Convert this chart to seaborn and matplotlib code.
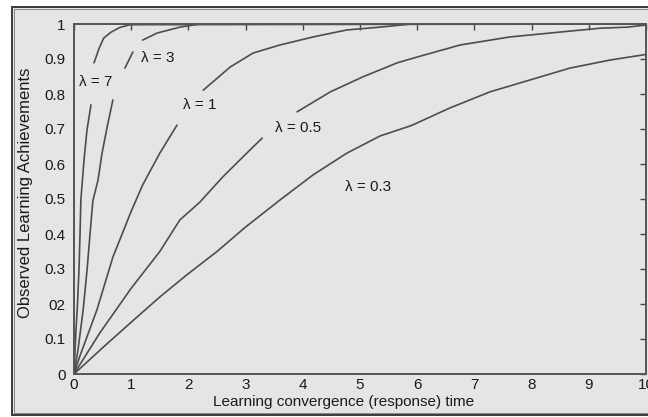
import numpy as np
import pandas as pd
import matplotlib
matplotlib.use("Agg")
import matplotlib.pyplot as plt
import seaborn as sns
from matplotlib.patches import Rectangle

# ---- data (NaN = gap where label sits) ----
lam7_t = [0, 0.035, 0.06, 0.087, 0.105, 0.12, 0.175, 0.227, 0.297, np.nan,
          0.35, 0.44, 0.52, 0.65, 0.8, 0.98, 10]
lam7_y = [0, 0.126, 0.197, 0.297, 0.397, 0.497, 0.611, 0.697, 0.769, np.nan,
          0.889, 0.931, 0.96, 0.977, 0.99, 0.998, 1.0]

lam3_t = [0, 0.07, 0.16, 0.23, 0.28, 0.33, 0.42, 0.49, 0.58, 0.68, np.nan,
          0.89, 1.03, np.nan, 1.2, 1.45, 1.85, 2.2, 10]
lam3_y = [0, 0.069, 0.183, 0.3, 0.4, 0.495, 0.554, 0.631, 0.706, 0.783, np.nan,
          0.874, 0.92, np.nan, 0.954, 0.974, 0.991, 1.0, 1.0]

lam1_t = [0, 0.1, 0.4, 0.68, 1.0, 1.2, 1.5, 1.8, np.nan,
          2.26, 2.73, 3.13, 3.6, 4.18, 4.77, 5.35, 5.9, 10]
lam1_y = [0, 0.05, 0.183, 0.334, 0.465, 0.54, 0.631, 0.711, np.nan,
          0.811, 0.877, 0.917, 0.94, 0.963, 0.983, 0.991, 1.0, 1.0]

lam05_t = [0, 0.45, 1.0, 1.5, 1.85, 2.2, 2.6, 3.02, 3.29, np.nan,
           3.9, 4.48, 5.05, 5.65, 6.05, 6.75, 7.62, 8.5, 9.2, 9.67, 10]
lam05_y = [0, 0.117, 0.245, 0.35, 0.44, 0.491, 0.563, 0.631, 0.674, np.nan,
           0.749, 0.806, 0.849, 0.889, 0.908, 0.94, 0.963, 0.977, 0.988, 0.991, 0.997]

lam03_t = [0, 0.5, 1.0, 1.5, 1.97, 2.5, 3.0, 3.6, 4.18, 4.77, 5.35, 5.9,
           6.57, 7.27, 7.97, 8.67, 9.37, 10]
lam03_y = [0, 0.075, 0.148, 0.22, 0.283, 0.35, 0.42, 0.497, 0.569, 0.631, 0.68, 0.71,
           0.76, 0.806, 0.84, 0.874, 0.897, 0.913]

curve_names = ["λ = 7", "λ = 3", "λ = 1", "λ = 0.5", "λ = 0.3"]
label_t = [0.385, 1.47, 2.19, 3.92, 5.14]
label_y = [0.834, 0.903, 0.769, 0.703, 0.534]

x_ticks = [0, 1, 2, 3, 4, 5, 6, 7, 8, 9, 10]
y_ticks = [0, 0.1, 0.2, 0.3, 0.4, 0.5, 0.6, 0.7, 0.8, 0.9, 1.0]
y_tick_labels = ["0", "0.1", "02", "0.3", "0.4", "0.5", "0.6", "0.7", "0.8", "0.9", "1"]

# ---- build long table, splitting at NaN gaps ----
rows = []
for name, ts, ys in zip(curve_names,
                        [lam7_t, lam3_t, lam1_t, lam05_t, lam03_t],
                        [lam7_y, lam3_y, lam1_y, lam05_y, lam03_y]):
    seg = 0
    for t, y in zip(ts, ys):
        if np.isnan(t):
            seg += 1
            continue
        rows.append({"t": t, "y": y, "curve": name, "seg": f"{name}_{seg}"})
df = pd.DataFrame(rows)

sns.set_theme(style="white")
plt.rcParams["font.family"] = ["Liberation Sans", "DejaVu Sans"]

BG = "#e5e5e5"
TXT = "#1a1a1a"
fig = plt.figure(figsize=(6.48, 4.17), dpi=100)
fig.patch.set_facecolor("white")
# frame around the picture
fig.patches.append(Rectangle((11.5 / 648, 2.0 / 417), 1.0, 408.5 / 417,
                             transform=fig.transFigure, facecolor=BG,
                             edgecolor="#3a3a3a", linewidth=1.4, zorder=-20))
fig.patches.append(Rectangle((14 / 648, 4.5 / 417), 1.0, 403.5 / 417,
                             transform=fig.transFigure, facecolor="none",
                             edgecolor="#777777", linewidth=0.6, zorder=-19))

ax = fig.add_axes([74 / 648, 43 / 417, 572 / 648, 350 / 417])
ax.set_facecolor(BG)

sns.lineplot(data=df, x="t", y="y", units="seg", estimator=None, sort=False,
             color="#4d4d4d", linewidth=1.2, ax=ax, legend=False)

for name, tx, ty in zip(curve_names, label_t, label_y):
    ax.text(tx, ty, name, ha="center", va="center", fontsize=11, color=TXT)

ax.set_xlim(0, 10)
ax.set_ylim(0, 1)
ax.set_xticks(x_ticks)
ax.set_xticklabels([str(v) for v in x_ticks])
ax.set_yticks(y_ticks)
ax.set_yticklabels(y_tick_labels)
ax.tick_params(direction="in", top=True, right=True, length=4, width=1.0,
               color="#444444", labelcolor=TXT, labelsize=11)
ax.tick_params(axis="x", pad=3)
ax.tick_params(axis="y", pad=6)
for sp in ax.spines.values():
    sp.set_visible(True)
    sp.set_color("#555555")
    sp.set_linewidth(1.4)

ax.set_xlabel("Learning convergence (response) time", fontsize=11,
              color=TXT, va="center")
ax.xaxis.set_label_coords((344 - 74) / 572, -(402 - 374) / 350)
ax.set_ylabel("Observed Learning Achievements", fontsize=12,
              color=TXT, va="center")
ax.yaxis.set_label_coords((26 - 74) / 572, (374 - 193) / 350)

fig.savefig("out.png", dpi=100, facecolor=fig.get_facecolor())
